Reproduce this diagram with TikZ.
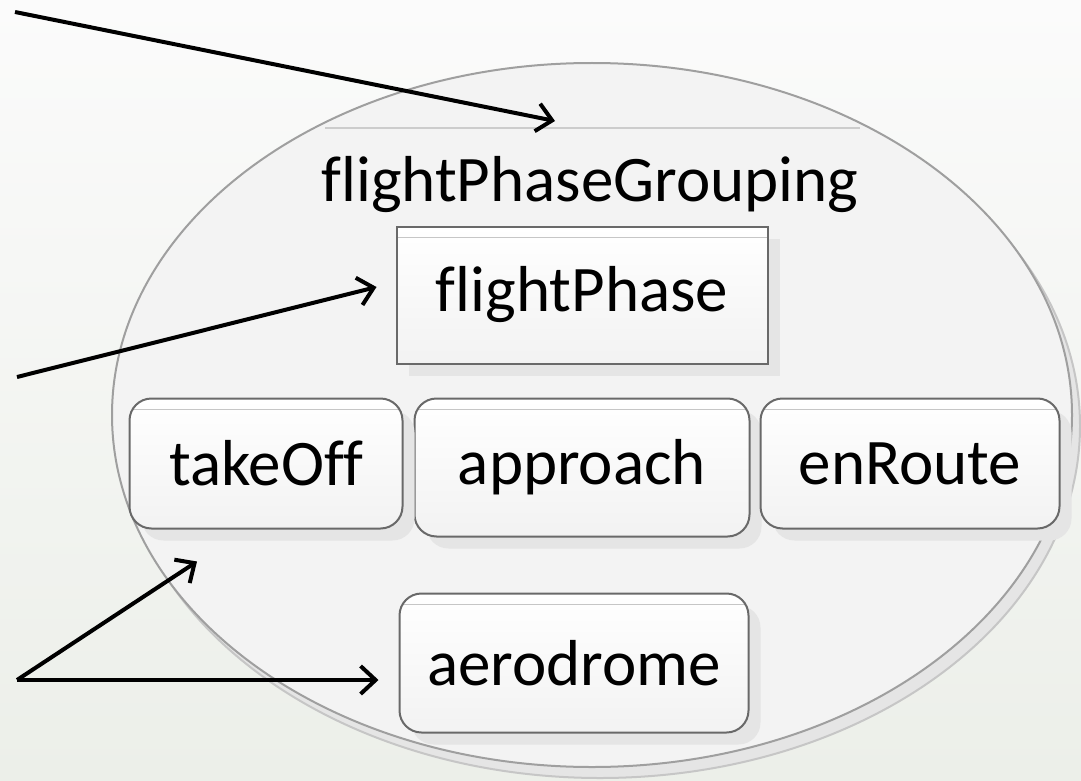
\documentclass[tikz,border=0pt]{standalone}
\usepackage{fontspec}
\setmainfont{Carlito}[Ligatures=NoCommon]
\usetikzlibrary{positioning,shapes.geometric,shadows,arrows.meta}

\definecolor{bgtop}{RGB}{251,251,251}
\definecolor{bgbottom}{RGB}{236,239,233}
\definecolor{grpfill}{RGB}{243,243,243}
\definecolor{boxedge}{RGB}{105,105,105}

\begin{document}
\begin{tikzpicture}[x=1pt,y=-1pt,
		grpnode/.style={ellipse, draw=gray!75, line width=2pt, fill=grpfill, inner sep=0pt,
			drop shadow={shadow xshift=8pt, shadow yshift=-11pt, fill=gray!20, draw=gray!45, opacity=1}},
		phasebox/.style={rectangle, draw=boxedge, line width=2pt, top color=white, bottom color=gray!10,
			inner sep=0pt, font=\fontsize{65}{72}\selectfont,
			drop shadow={shadow xshift=12pt, shadow yshift=-12pt, fill=gray!20, opacity=1},
			path picture={\draw[gray!45, line width=1.5pt] ([yshift=-11pt]path picture bounding box.north west) -- ([yshift=-11pt]path picture bounding box.north east);}},
		valbox/.style={phasebox, rounded corners=22pt},
		callout/.style={line width=4pt, -{Straight Barb[length=15pt, width=28pt]}},
	]
		\useasboundingbox (0,0) rectangle (1081,781);
		\shade[top color=bgtop, bottom color=bgbottom] (0,0) rectangle (1081,781);

		% nodes
		\node[grpnode, minimum width=960pt, minimum height=704pt] (grp) at (592,415) {};
		\draw[gray!40, line width=1.5pt] (325,128) -- (860,128);
		\node[anchor=base, font=\fontsize{65}{72}\selectfont] (title) at (590,201) {flightPhaseGrouping};
		\node[phasebox, minimum width=371pt, minimum height=137pt] (fphase) at (582,295) {flightPhase};
		\node[valbox, minimum width=335pt, minimum height=138pt, below=33pt of fphase] (approach) {approach};
		\node[valbox, minimum width=273pt, minimum height=130pt, below left=0pt and 10pt of approach.north west] (takeoff) {takeOff};
		\node[valbox, minimum width=299pt, minimum height=130pt, below right=0pt and 9pt of approach.north east] (enroute) {enRoute};
		\node[valbox, minimum width=349pt, minimum height=139pt, below=55pt of approach, xshift=-8pt] (aerodrome) {aerodrome};

		% free ends
		\coordinate (srcTop) at (15,12);
		\coordinate (srcMid) at (17,377);
		\coordinate (srcLow) at (17,680);

		% lines
		\draw[callout] (srcTop) -- ([xshift=-37pt, yshift=-59pt]grp.north);
		\draw[callout] (srcMid) -- ([xshift=-19pt, yshift=8pt]fphase.west);
		\draw[callout] (srcLow) -- ([xshift=-69pt, yshift=-32pt]takeoff.south);
		\draw[callout] (srcLow) -- ([xshift=-20pt]aerodrome.west |- srcLow);
	\end{tikzpicture}
\end{document}
